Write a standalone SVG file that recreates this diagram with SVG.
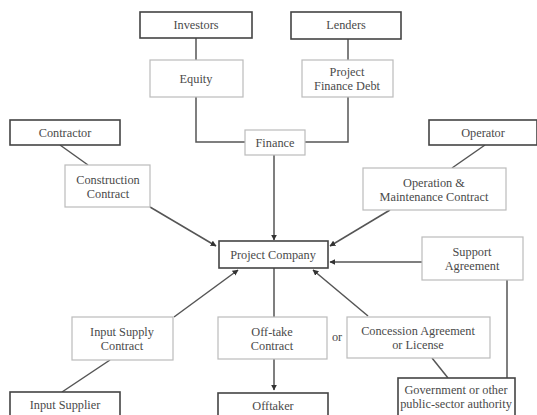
<svg xmlns="http://www.w3.org/2000/svg" width="537" height="415" viewBox="0 0 537 415">
<style>
.dk{fill:#fff;stroke:#444;stroke-width:1.6}
.lt{fill:#fff;stroke:#bbb;stroke-width:1.2}
text{font-family:"Liberation Serif","Times New Roman",serif;font-size:12.3px;fill:#4a4a4a;text-anchor:middle}
.ln{fill:none;stroke:#555;stroke-width:1.5}
</style>
<defs>
<marker id="ah" viewBox="0 0 10 10" refX="9" refY="5" markerWidth="6" markerHeight="6" orient="auto" markerUnits="userSpaceOnUse">
<path d="M0,0 L10,5 L0,10 z" fill="#333"/>
</marker>
</defs>
<rect width="537" height="415" fill="#fff"/>
<g id="connectors">
<path class="ln" d="M196,38 V60"/>
<path class="ln" d="M196,97 V142 H245"/>
<path class="ln" d="M348,39 V60"/>
<path class="ln" d="M348,97 V142 H305"/>
<path class="ln" d="M274,155 V240" marker-end="url(#ah)"/>
<path class="ln" d="M60,145 L88,165"/>
<path class="ln" d="M150,207 L216,246" marker-end="url(#ah)"/>
<path class="ln" d="M485,145 L452,168"/>
<path class="ln" d="M390,210 L330,246" marker-end="url(#ah)"/>
<path class="ln" d="M422,262 H330" marker-end="url(#ah)"/>
<path class="ln" d="M507,280 V378"/>
<path class="ln" d="M174,317 L238,270" marker-end="url(#ah)"/>
<path class="ln" d="M110,360 L62,392"/>
<path class="ln" d="M274,268 V317"/>
<path class="ln" d="M274,359 V390" marker-end="url(#ah)"/>
<path class="ln" d="M368,316 L313,270" marker-end="url(#ah)"/>
<path class="ln" d="M432,358 L448,378"/>
</g>
<g id="investors"><rect class="dk" x="140" y="12" width="112" height="26"/><text x="196" y="29">Investors</text></g>
<g id="lenders"><rect class="dk" x="291" y="12" width="110" height="27"/><text x="346" y="29">Lenders</text></g>
<g id="equity"><rect class="lt" x="150" y="60" width="93" height="37"/><text x="196" y="83">Equity</text></g>
<g id="pfdebt"><rect class="lt" x="302" y="60" width="91" height="37"/><text x="347" y="76">Project</text><text x="347" y="90">Finance Debt</text></g>
<g id="finance"><rect class="lt" x="245" y="130" width="60" height="25"/><text x="275" y="147">Finance</text></g>
<g id="contractor"><rect class="dk" x="10" y="120" width="110" height="25"/><text x="65" y="137">Contractor</text></g>
<g id="construction"><rect class="lt" x="65" y="165" width="85" height="42"/><text x="108" y="184">Construction</text><text x="108" y="198">Contract</text></g>
<g id="operator"><rect class="dk" x="429" y="120" width="108" height="25"/><text x="483" y="137">Operator</text></g>
<g id="om"><rect class="lt" x="363" y="168" width="143" height="42"/><text x="434" y="187">Operation &amp;</text><text x="434" y="201">Maintenance Contract</text></g>
<g id="projectco"><rect class="dk" x="219" y="241" width="109" height="27"/><text x="273" y="259">Project Company</text></g>
<g id="support"><rect class="lt" x="422" y="237" width="101" height="43"/><text x="472" y="256">Support</text><text x="472" y="270">Agreement</text></g>
<g id="inputsupply"><rect class="lt" x="72" y="317" width="101" height="43"/><text x="122" y="336">Input Supply</text><text x="122" y="350">Contract</text></g>
<g id="offtake"><rect class="lt" x="218" y="317" width="109" height="42"/><text x="272" y="336">Off-take</text><text x="272" y="350">Contract</text></g>
<text x="337" y="341">or</text>
<g id="concession"><rect class="lt" x="347" y="317" width="143" height="41"/><text x="418" y="335">Concession Agreement</text><text x="418" y="349">or License</text></g>
<g id="inputsupplier"><rect class="dk" x="10" y="392" width="110" height="30"/><text x="65" y="409">Input Supplier</text></g>
<g id="offtaker"><rect class="dk" x="218" y="393" width="110" height="30"/><text x="273" y="410">Offtaker</text></g>
<g id="government"><rect class="dk" x="398" y="378" width="117" height="40"/><text x="456" y="394">Government or other</text><text x="456" y="408">public-sector authority</text></g>
</svg>
